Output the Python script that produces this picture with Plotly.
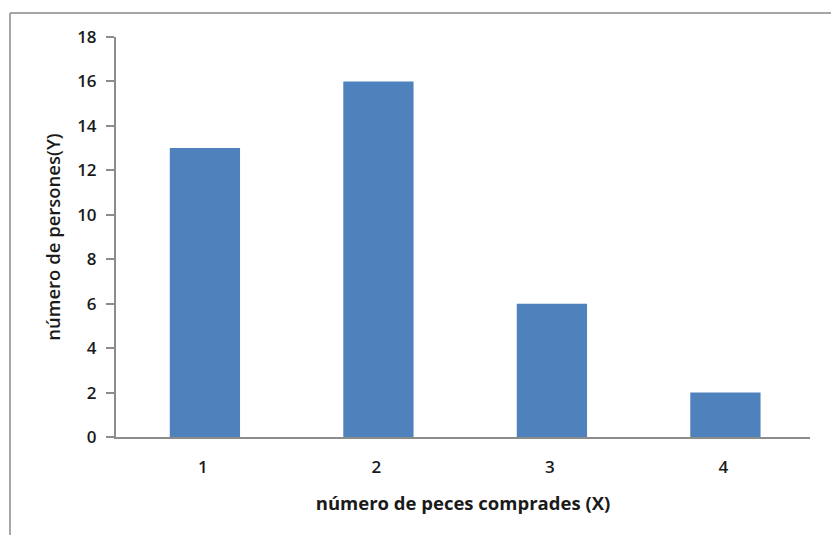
import plotly.graph_objects as go

# Fish purchases per person
categorias = ["1", "2", "3", "4"]
personas = [13, 16, 6, 2]
y_ticks = list(range(0, 20, 2))

W, H = 831, 535
L, R, T, B = 116, 21, 37, 98
pw, ph = W - L - R, H - T - B


def px_x(x):
    return (x - L) / pw


def px_y(y):
    return (H - B - y) / ph


fig = go.Figure(
    go.Bar(
        x=[1, 2, 3, 4],
        y=personas,
        width=0.405,
        offset=-0.19,
        marker=dict(color="#4f81bd", line=dict(width=0)),
    )
)

font_family = "Open Sans, Liberation Sans, sans-serif"

fig.update_layout(
    width=W,
    height=H,
    margin=dict(l=L, r=R, t=T, b=B),
    paper_bgcolor="white",
    plot_bgcolor="white",
    showlegend=False,
    font=dict(family=font_family, size=17, color="#1a1a1a"),
    xaxis=dict(
        range=[0.5, 4.5],
        tickvals=[1, 2, 3, 4],
        ticktext=categorias,
        showgrid=False,
        zeroline=False,
        showline=True,
        linecolor="#8c8c8c",
        linewidth=2,
        ticks="",
        tickfont=dict(size=17, weight=600),
        ticklabelstandoff=14,
        title=dict(
            text="<b>número de peces comprades (X)</b>",
            font=dict(size=18.5),
            standoff=20,
        ),
    ),
    yaxis=dict(
        range=[0, 18],
        tickvals=y_ticks,
        showgrid=False,
        zeroline=False,
        showline=True,
        linecolor="#8c8c8c",
        linewidth=2,
        ticks="outside",
        ticklen=8,
        tickwidth=1.5,
        tickcolor="#8c8c8c",
        tickfont=dict(size=17, weight=600),
        ticklabelstandoff=6,
        title=dict(
            text="número de persones(Y)",
            font=dict(size=18.5, weight=600),
            standoff=12,
        ),
    ),
    shapes=[
        dict(type="line", xref="paper", yref="paper",
             x0=px_x(10), x1=px_x(W + 5), y0=px_y(13), y1=px_y(13),
             line=dict(color="#a6a6a6", width=2)),
        dict(type="line", xref="paper", yref="paper",
             x0=px_x(10), x1=px_x(10), y0=px_y(13), y1=px_y(H + 5),
             line=dict(color="#a6a6a6", width=2)),
    ],
)

fig.write_html("out.html")
